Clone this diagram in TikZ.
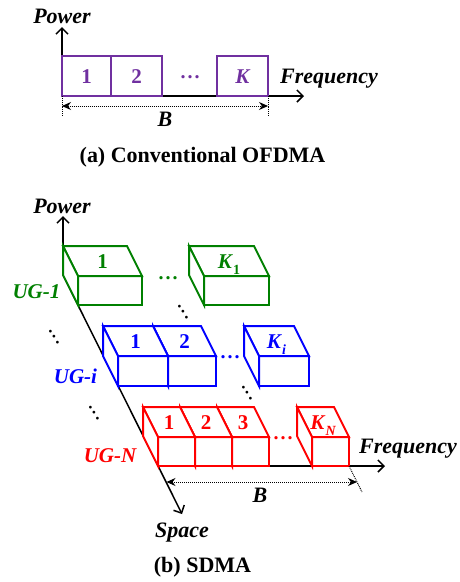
\documentclass[tikz,border=0pt]{standalone}
\usepackage{fontspec}
\setmainfont{Liberation Serif}
\usetikzlibrary{arrows.meta}
\definecolor{ofpurple}{RGB}{112,48,160}
\definecolor{uggreen}{RGB}{0,128,0}
\definecolor{ugblue}{RGB}{0,0,255}
\definecolor{ugred}{RGB}{255,0,0}
\newcommand\lblfont{\fontsize{22}{24}\selectfont\bfseries\itshape}
\newcommand\sbs[1]{\raisebox{-0.3em}{\fontsize{14}{14}\selectfont #1}}
\newcommand\dotsrow{.\kern2pt.\kern2pt.}
% name, x, y (front top-left), w, h, colour, label
\newcommand\ugbox[7]{%
  \filldraw[boxline,draw=#6] (#2,#3) rectangle ({#2+#4},{#3+#5});
  \filldraw[boxline,draw=#6] (#2,#3) -- ({#2-15},{#3-30}) -- ({#2+#4-15},{#3-30}) -- ({#2+#4},#3) -- cycle;
  \filldraw[boxline,draw=#6] (#2,#3) -- ({#2-15},{#3-30}) -- ({#2-15},{#3-30+#5}) -- (#2,{#3+#5}) -- cycle;
  \node[num,text=#6] (#1) at ({#2+#4/2-7.5},{#3-7.5}) {#7};
}
\begin{document}
\begin{tikzpicture}[x=1pt,y=-1pt,
  axis/.style={line width=1.5pt,-{Straight Barb[length=6pt,width=12pt]}},
  dim/.style={densely dotted,line width=1pt,{Stealth[length=9pt,width=8pt]}-{Stealth[length=9pt,width=8pt]}},
  tick/.style={densely dotted,line width=0.9pt},
  boxline/.style={line width=2pt,fill=white,line join=miter},
  abox/.style={line width=2pt,draw=ofpurple,fill=white},
  lbl/.style={font=\lblfont,inner sep=0pt,anchor=base},
  captext/.style={font=\fontsize{22}{24}\selectfont\bfseries,inner sep=0pt,anchor=base},
  num/.style={font=\fontsize{21}{21}\selectfont\bfseries,inner sep=0pt,anchor=base},
  dotsh/.style={font=\fontsize{20}{20}\selectfont\bfseries,inner sep=0pt,anchor=center},
  dotsd/.style={font=\fontsize{17}{17}\selectfont\bfseries,inner sep=0pt,anchor=center,rotate=-56}]
\useasboundingbox[fill=white] (0,0) rectangle (459,582);

% ---------------- (a) Conventional OFDMA ----------------
\coordinate (oa) at (62,96);
\coordinate (pa) at (62,27);
\coordinate (fa) at (304,96);
\draw[axis] (oa) -- (pa);
\draw[axis] (oa) -- (fa);
\draw[abox] (62,56) rectangle (111,96);
\draw[abox] (111,56) rectangle (162,96);
\draw[abox] (217,56) rectangle (268,96);
\node[num,text=ofpurple] (a1) at (86.5,83) {1};
\node[num,text=ofpurple] (a2) at (136.5,83) {2};
\node[num,font=\fontsize{21}{21}\selectfont\bfseries\itshape,text=ofpurple] (aK) at (242.5,83) {K};
\node[dotsh,text=ofpurple] (adots) at (190,77) {\dotsrow};
\coordinate (ta1) at (62,96);
\coordinate (tb1) at (62,116);
\coordinate (ta2) at (268,96);
\coordinate (tb2) at (268,116);
\draw[tick] (ta1) -- (tb1);
\draw[tick] (ta2) -- (tb2);
\coordinate (dla) at (62,106);
\coordinate (dra) at (268,106);
\draw[dim] (dla) -- (dra);
\node[lbl] (powa) at (62,23) {Power};
\node[lbl] (freqa) at (329,83) {Frequency};
\node[lbl] (Ba) at (165,126) {B};
\node[captext] (capa) at (202.5,162) {(a) Conventional OFDMA};

% ---------------- (b) SDMA ----------------
\coordinate (O) at (63,275);
\coordinate (P) at (63,216);
\coordinate (S) at (182,514);
\coordinate (F0) at (158,466);
\coordinate (F1) at (385,466);
\draw[axis] (O) -- (P);
\draw[axis] (O) -- (S);
\draw[axis] (F0) -- (F1);

% UG-1 (green)
\ugbox{gK}{204}{276}{65}{29}{uggreen}{\textit{K}\sbs{1}}
\ugbox{g1}{78}{276}{64}{29}{uggreen}{1}
\node[dotsh,text=uggreen] (gdots) at (168,278) {\dotsrow};

% UG-i (blue)
\ugbox{bK}{259}{356}{50}{30}{ugblue}{\textit{K}\sbs{\itshape i}}
\ugbox{b2}{168}{356}{48}{30}{ugblue}{2}
\ugbox{b1}{118}{356}{50}{30}{ugblue}{1}
\node[dotsh,text=ugblue] (bdots) at (230,357) {\dotsrow};

% UG-N (red)
\ugbox{rK}{312}{437}{37}{29}{ugred}{\textit{K}\sbs{\itshape N}}
\ugbox{r3}{232}{437}{37}{29}{ugred}{3}
\ugbox{r2}{195}{437}{37}{29}{ugred}{2}
\ugbox{r1}{158}{437}{37}{29}{ugred}{1}
\node[dotsh,text=ugred] (rdots) at (283,438) {\dotsrow};

% vertical ellipses between groups
\node[dotsd] (vd1) at (183,312) {\dotsrow};
\node[dotsd] (vd2) at (247,393) {\dotsrow};
\node[dotsd] (vd3) at (54,337) {\dotsrow};
\node[dotsd] (vd4) at (94,413) {\dotsrow};

% bandwidth B
\coordinate (tc1) at (349,466);
\coordinate (tc2) at (362,492);
\draw[tick] (tc1) -- (tc2);
\coordinate (dlb) at (166.5,482);
\coordinate (drb) at (357,482);
\draw[dim] (dlb) -- (drb);

\node[lbl] (powb) at (62,213) {Power};
\node[lbl,text=uggreen,font=\fontsize{21}{23}\selectfont\bfseries\itshape] (ug1) at (36.5,298) {UG-1};
\node[lbl,text=ugblue,font=\fontsize{21}{23}\selectfont\bfseries\itshape] (ugi) at (75.5,383) {UG-\textit{i}};
\node[lbl,text=ugred,font=\fontsize{21}{23}\selectfont\bfseries\itshape] (ugN) at (110,462) {UG-N};
\node[lbl] (freqb) at (408,453) {Frequency};
\node[lbl] (Bb) at (260,502) {B};
\node[lbl] (space) at (182,537) {Space};
\node[captext] (capb) at (202.5,572) {(b) SDMA};
\end{tikzpicture}
\end{document}
